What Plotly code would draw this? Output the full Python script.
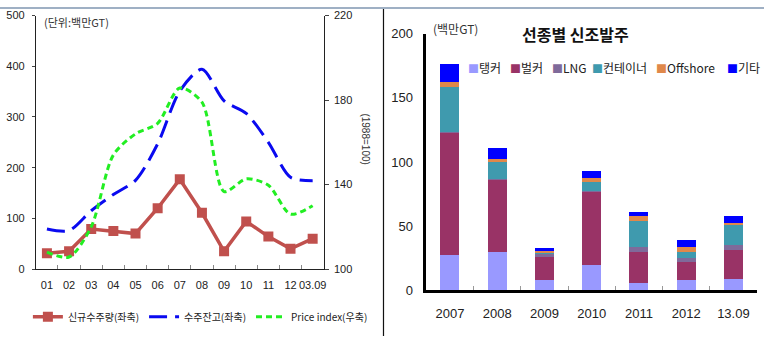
import plotly.graph_objects as go

W, H = 767, 344

# ---- left chart data ----
years_left = ['01', '02', '03', '04', '05', '06', '07', '08', '09', '10', '11', '12', '03.09']
new_orders = [31, 35, 79, 75, 70, 120, 177, 111, 35, 94, 64, 40, 60]
backlog = [79, 76, 115, 147, 175, 247, 351, 394, 332, 307, 250, 181, 174]
price_index = [108, 105.7, 120, 154, 164, 169, 185.7, 179, 136.7, 142.7, 139.7, 126, 130]

# ---- right chart data ----
years_right = ['2007', '2008', '2009', '2010', '2011', '2012', '13.09']
ship_types = ['탱커', '벌커', 'LNG', '컨테이너', 'Offshore', '기타']
tanker = [27.4, 29.4, 8.2, 19.7, 5.5, 7.5, 9.0]
bulker = [95.4, 56.8, 17.8, 57.5, 23.9, 14.4, 22.4]
lng = [0.8, 0.5, 2.4, 0.5, 4.5, 3.3, 3.5]
container = [34.9, 12.9, 0.5, 6.5, 19.9, 4.7, 15.7]
offshore = [3.5, 3.0, 1.7, 3.0, 4.2, 4.0, 2.0]
others = [14.4, 8.2, 2.4, 5.7, 3.3, 5.2, 5.2]
stack_values = [tanker, bulker, lng, container, offshore, others]
stack_colors = ['#9999FF', '#993366', '#7F6A9A', '#3F9AAE', '#E0884A', '#0000FF']

KR = 'Noto Sans CJK KR'
NUM = 'Liberation Sans, Arial'


def px_x(p):
    return p / W


def px_y(p):
    return 1 - p / H


fig = go.Figure()

fig.add_trace(go.Scatter(
    x=years_left, y=new_orders, name='신규수주량(좌축)', mode='lines+markers',
    line=dict(color='#C0504D', width=3.5), marker=dict(symbol='square', size=10, color='#C0504D'),
    xaxis='x', yaxis='y', legend='legend'))
fig.add_trace(go.Scatter(
    x=years_left, y=backlog, name='수주잔고(좌축)', mode='lines',
    line=dict(color='#0A0AF0', width=3, dash='18px,8px', shape='spline', smoothing=0.8),
    xaxis='x', yaxis='y', legend='legend'))
fig.add_trace(go.Scatter(
    x=years_left, y=price_index, name='Price index(우축)', mode='lines',
    line=dict(color='#22EE22', width=3, dash='6px,4px', shape='spline', smoothing=0.8),
    xaxis='x', yaxis='y2', legend='legend'))

for name, vals, col in zip(ship_types, stack_values, stack_colors):
    fig.add_trace(go.Bar(
        x=years_right, y=vals, name=name, marker=dict(color=col, line=dict(width=0)),
        width=0.4, xaxis='x3', yaxis='y3', showlegend=False))

tickfont_l = dict(family=NUM, size=11, color='#222')
tickfont_r = dict(family=NUM, size=13, color='#222')

annotations = [
    dict(text='(단위:백만GT)', x=px_x(42), y=px_y(16), xref='paper', yref='paper',
         xanchor='left', yanchor='middle', showarrow=False, font=dict(family=KR, size=11, color='#333')),
    dict(text='(1988=100)', x=px_x(366), y=px_y(138), xref='paper', yref='paper',
         xanchor='center', yanchor='middle', showarrow=False, textangle=90,
         font=dict(family=NUM, size=10, color='#333')),
    dict(text='(백만GT)', x=px_x(433), y=px_y(22), xref='paper', yref='paper',
         xanchor='left', yanchor='middle', showarrow=False, font=dict(family=KR, size=12, color='#333')),
    dict(text='<b>선종별 신조발주</b>', x=px_x(578), y=px_y(28), xref='paper', yref='paper',
         xanchor='center', yanchor='middle', showarrow=False, font=dict(family=KR, size=16, color='#111')),
]

# manual legend for stacked bars
leg_x = [468, 510, 552, 592, 657, 728]
for lx, name, col in zip(leg_x, ship_types, stack_colors):
    annotations.append(dict(
        text=f"<span style='color:{col};font-size:11px'>■</span>{name}", x=px_x(lx), y=px_y(63),
        xref='paper', yref='paper', xanchor='left', yanchor='middle', showarrow=False,
        font=dict(family=KR, size=12, color='#222')))

shapes = [
    dict(type='line', xref='paper', yref='paper', x0=0, x1=1, y0=px_y(1), y1=px_y(1),
         line=dict(color='#9FB0C4', width=2)),
    dict(type='line', xref='paper', yref='paper', x0=px_x(385), x1=px_x(385), y0=0, y1=px_y(2),
         line=dict(color='#111', width=1.2)),
]

fig.update_layout(
    width=W, height=H, margin=dict(l=0, r=0, t=0, b=0),
    paper_bgcolor='white', plot_bgcolor='white',
    font=dict(family=KR, color='#222'),
    barmode='stack', bargap=0.6,
    xaxis=dict(domain=[px_x(36), px_x(325)], type='category', showline=True, linecolor='#222',
               linewidth=1, ticks='inside', tickson='boundaries', ticklen=4, tickcolor='#888',
               tickfont=tickfont_l, tickangle=0, ticklabelstandoff=6, showgrid=False,
               zeroline=False, anchor='y', range=[-0.5, 12.5]),
    yaxis=dict(domain=[px_y(274), px_y(9)], range=[0, 500], dtick=100, showline=True,
               linecolor='#222', linewidth=1, ticks='outside', ticklen=3, tickcolor='#444',
               tickfont=tickfont_l, ticklabelstandoff=5, showgrid=False, zeroline=False, anchor='x'),
    yaxis2=dict(overlaying='y', side='right', range=[100, 220], tick0=100, dtick=40, showline=True,
                linecolor='#222', linewidth=1, ticks='outside', ticklen=4, tickcolor='#444',
                tickfont=tickfont_l, ticklabelstandoff=3, showgrid=False, zeroline=False, anchor='x'),
    xaxis3=dict(domain=[px_x(428), px_x(760)], type='category', showline=True, linecolor='#000',
                linewidth=2.5, ticks='inside', tickson='boundaries', ticklen=4, tickcolor='#999',
                tickfont=tickfont_r, tickangle=0, ticklabelstandoff=10, showgrid=False,
                zeroline=False, anchor='y3', range=[-0.5, 6.5]),
    yaxis3=dict(domain=[px_y(296), px_y(28)], range=[0, 200], dtick=50, showline=True,
                linecolor='#000', linewidth=2.5, ticks='', tickfont=tickfont_r,
                ticklabelstandoff=8, showgrid=False, zeroline=False, anchor='x3'),
    legend=dict(orientation='h', x=px_x(28), y=px_y(324), xanchor='left', yanchor='middle',
                font=dict(family=KR, size=10, color='#222'), bgcolor='rgba(0,0,0,0)',
                itemwidth=30, tracegroupgap=0, traceorder='normal'),
    annotations=annotations, shapes=shapes,
)

fig.write_html('out.html')
